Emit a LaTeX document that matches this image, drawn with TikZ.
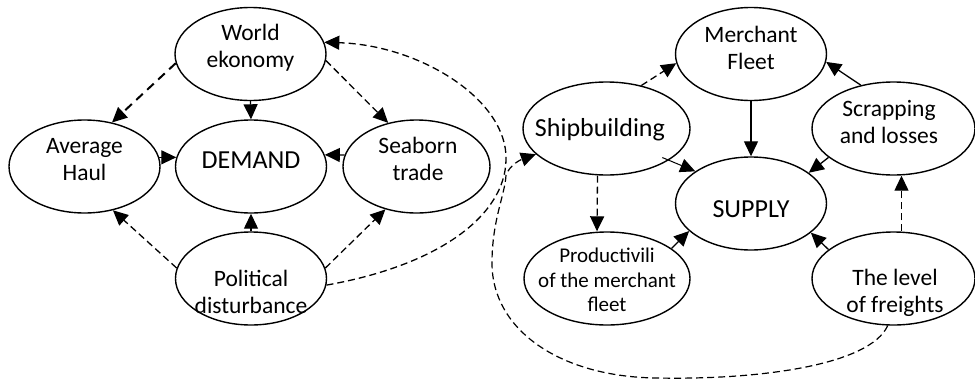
\documentclass[tikz,border=0pt]{standalone}
\usepackage{fontspec}
\setmainfont{Carlito}
\usetikzlibrary{shapes.geometric,arrows.meta,calc}
\begin{document}
\begin{tikzpicture}[x=1pt,y=-1pt,
  ell/.style={draw, ellipse, line width=1.4pt, minimum width=151pt, minimum height=93pt, inner sep=0pt},
  txt/.style={align=center, inner sep=0pt, font=\fontsize{23.5}{27}\selectfont},
  big/.style={inner sep=0pt, font=\fontsize{26}{30}\selectfont},
  sml/.style={align=center, inner sep=0pt, font=\fontsize{21}{24.5}\selectfont},
  conn/.style={line width=1.3pt, -{Triangle[length=15pt,width=14pt]}},
  dsh/.style={conn, dash pattern=on 7pt off 4pt},
  thickdsh/.style={conn, line width=2pt, dash pattern=on 9pt off 6pt},
]
\useasboundingbox (0,0) rectangle (975,383);

% ellipses
\node[ell] (we) at (250.5,54) {};
\node[ell] (ah) at (84.5,166.5) {};
\node[ell] (dem) at (251,166.5) {};
\node[ell, minimum width=147pt] (sea) at (416.5,166.5) {};
\node[ell] (pol) at (251,278.5) {};
\node[ell] (mf) at (751,54) {};
\node[ell, minimum width=167pt] (sb) at (606.5,128.5) {};
\node[ell, minimum width=163pt] (sc) at (893.5,128.5) {};
\node[ell] (sup) at (751,203.5) {};
\node[ell, minimum width=166pt] (pr) at (607,278.5) {};
\node[ell, minimum width=163pt] (fr) at (893.5,278.5) {};

% texts
\node[txt] (weT) at (250.5,48) {World\\ekonomy};
\node[txt] (ahT) at (84.5,160) {Average\\Haul};
\node[big] (demT) at (251,160.5) {DEMAND};
\node[txt] (seaT) at (418,159) {Seaborn\\trade};
\node[txt] (polT) at (251,291.5) {Political\\disturbance};
\node[txt] (mfT) at (751,48) {Merchant\\Fleet};
\node[big] (sbT) at (600,130) {Shipbuilding};
\node[txt] (scT) at (889,122) {Scrapping\\and losses};
\node[big] (supT) at (751,209) {SUPPLY};
\node[sml] (prT) at (607,280) {Productivili\\of the merchant\\fleet};
\node[txt] (frT) at (895,292.5) {The level\\of freights};

% demand side
\draw[thickdsh] (we.187) -- (ah.58);
\draw[conn] (we.south) -- (dem.north);
\draw[dsh] (we.355) -- (sea.123);
\draw[conn] (ah.7) -- (dem.173);
\draw[conn] (sea.171) -- (dem.9);
\draw[conn] (pol.north) -- (dem.south);
\draw[dsh] (pol.172) -- (ah.303);
\draw[dsh] (pol.8) -- (sea.234);
\draw[dsh] (pol.355) .. controls (440,265) and (505,215) .. (506,160)
  .. controls (508,100) and (420,45) .. (we.9);

% supply side
\draw[dsh] (sb.51) -- (mf.187);
\draw[conn] (mf.south) -- (sup.north);
\draw[conn] (sc.127) -- (mf.354);
\draw[conn, line width=1pt, shorten <=-7pt] (sb.333) -- (sup.150);
\draw[conn] (sc.204) -- (sup.28);
\draw[dsh] ([xshift=-9pt]sb.south) -- ([xshift=-10pt]pr.north);
\draw[conn] (pr.25) -- (sup.204);
\draw[conn] (fr.156) -- (sup.334);
\draw[dsh] ([xshift=8pt]fr.north) -- ([xshift=8pt]sc.south);
\draw[dsh, line width=1.2pt] (fr.263) .. controls (870,365) and (760,380) .. (657,378)
  .. controls (560,377) and (492,330) .. (492,263)
  .. controls (492,220) and (505,195) .. (506,175)
  .. controls (510,165) and (520,160) .. (sb.200);
\end{tikzpicture}
\end{document}
